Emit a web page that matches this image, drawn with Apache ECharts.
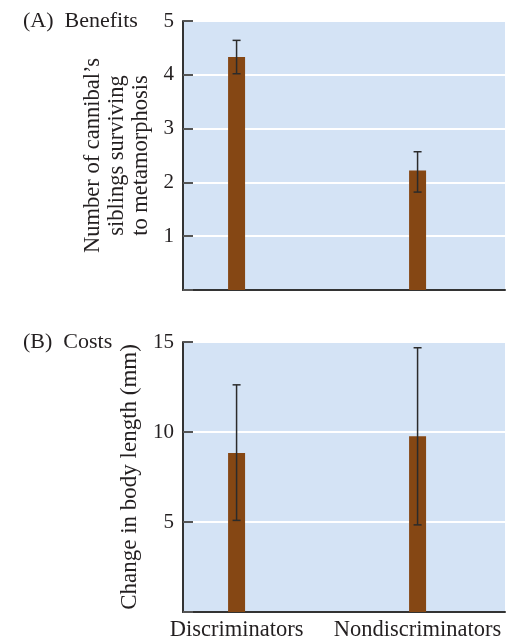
<!DOCTYPE html>
<html>
<head>
<meta charset="utf-8">
<script src="https://cdn.jsdelivr.net/npm/echarts@6/dist/echarts.min.js"></script>
<style>html,body{margin:0;padding:0;background:#fff;}#c{width:517px;height:642px;}</style>
</head>
<body>
<div id="c"></div>
<script>
var categories = ['Discriminators', 'Nondiscriminators'];
var catPos = [1, 2];
var benefitMean = [4.33, 2.22];
var benefitLow = [4.02, 1.82];
var benefitHigh = [4.64, 2.57];
var costMean = [8.84, 9.76];
var costLow = [5.09, 4.84];
var costHigh = [12.62, 14.68];
var benefitTicks = [1, 2, 3, 4, 5];
var costTicks = [5, 10, 15];

var FONT = 'Liberation Serif';
var TXT = '#231f20';
var BG = '#d4e3f5';
var BAR = '#854714';
var AX = '#333333';

function barData(means) { return means.map(function (v, i) { return [catPos[i], v]; }); }
function errData(lo, hi) { return lo.map(function (v, i) { return [catPos[i], v, hi[i]]; }); }

function errRender(params, api) {
  var x = api.value(0), lo = api.value(1), hi = api.value(2);
  var pLo = api.coord([x, lo]);
  var pHi = api.coord([x, hi]);
  var hw = 4;
  var st = { stroke: '#2b2b2b', lineWidth: 1.5 };
  return {
    type: 'group',
    children: [
      { type: 'line', shape: { x1: pLo[0], y1: pLo[1], x2: pHi[0], y2: pHi[1] }, style: st },
      { type: 'line', shape: { x1: pHi[0] - hw, y1: pHi[1], x2: pHi[0] + hw, y2: pHi[1] }, style: st },
      { type: 'line', shape: { x1: pLo[0] - hw, y1: pLo[1], x2: pLo[0] + hw, y2: pLo[1] }, style: st }
    ]
  };
}

var xBase = {
  type: 'value', min: 0.704, max: 2.483,
  axisLine: { show: true, lineStyle: { color: AX, width: 2 } },
  axisTick: { show: false },
  splitLine: { show: false }
};

function yAxisDef(gi, max, interval, name, nameGap, nameSize) {
  return {
    type: 'value', gridIndex: gi, min: 0, max: max, interval: interval,
    name: name, nameLocation: 'middle', nameRotate: 90, nameGap: nameGap,
    nameTextStyle: { fontFamily: FONT, fontSize: nameSize, color: TXT, lineHeight: 24 },
    axisLine: { show: true, lineStyle: { color: AX, width: 2 } },
    axisTick: { show: true, inside: true, length: 10, lineStyle: { color: '#555', width: 2 } },
    axisLabel: {
      fontFamily: FONT, fontSize: 21, color: TXT, margin: 9,
      formatter: function (v) { return v === 0 ? '' : String(v); }
    },
    splitLine: { show: true, lineStyle: { color: '#ffffff', width: 2 } }
  };
}

var chart = echarts.init(document.getElementById('c'), null, { renderer: 'canvas' });
chart.setOption({
  animation: false,
  backgroundColor: '#ffffff',
  title: [
    { text: '(A)  Benefits', left: 18, top: 5, textStyle: { fontFamily: FONT, fontSize: 22, fontWeight: 'normal', color: TXT } },
    { text: '(B)  Costs', left: 18, top: 326, textStyle: { fontFamily: FONT, fontSize: 22, fontWeight: 'normal', color: TXT } }
  ],
  grid: [
    { left: 183, top: 21, right: 12, height: 269, show: true, backgroundColor: BG, borderWidth: 0 },
    { left: 183, top: 342, right: 12, height: 273, show: true, backgroundColor: BG, borderWidth: 0 }
  ],
  xAxis: [
    Object.assign({}, xBase, { gridIndex: 0, axisLabel: { show: false } }),
    Object.assign({}, xBase, {
      gridIndex: 1,
      axisLabel: {
        show: true, customValues: catPos, margin: 7,
        fontFamily: FONT, fontSize: 22.5, color: TXT,
        formatter: function (v) { var i = catPos.indexOf(v); return i >= 0 ? categories[i] : ''; }
      }
    })
  ],
  yAxis: [
    yAxisDef(0, 5, 1, "Number of cannibal\u2019s\nsiblings surviving\nto metamorphosis", 22, 22.5),
    yAxisDef(1, 15, 5, 'Change in body length (mm)', 32, 23)
  ],
  series: [
    { type: 'bar', xAxisIndex: 0, yAxisIndex: 0, data: barData(benefitMean), barWidth: 17, itemStyle: { color: BAR } },
    { type: 'custom', xAxisIndex: 0, yAxisIndex: 0, data: errData(benefitLow, benefitHigh), renderItem: errRender, encode: { x: 0, y: [1, 2] }, z: 5 },
    { type: 'bar', xAxisIndex: 1, yAxisIndex: 1, data: barData(costMean), barWidth: 17, itemStyle: { color: BAR } },
    { type: 'custom', xAxisIndex: 1, yAxisIndex: 1, data: errData(costLow, costHigh), renderItem: errRender, encode: { x: 0, y: [1, 2] }, z: 5 }
  ]
});
</script>
</body>
</html>
